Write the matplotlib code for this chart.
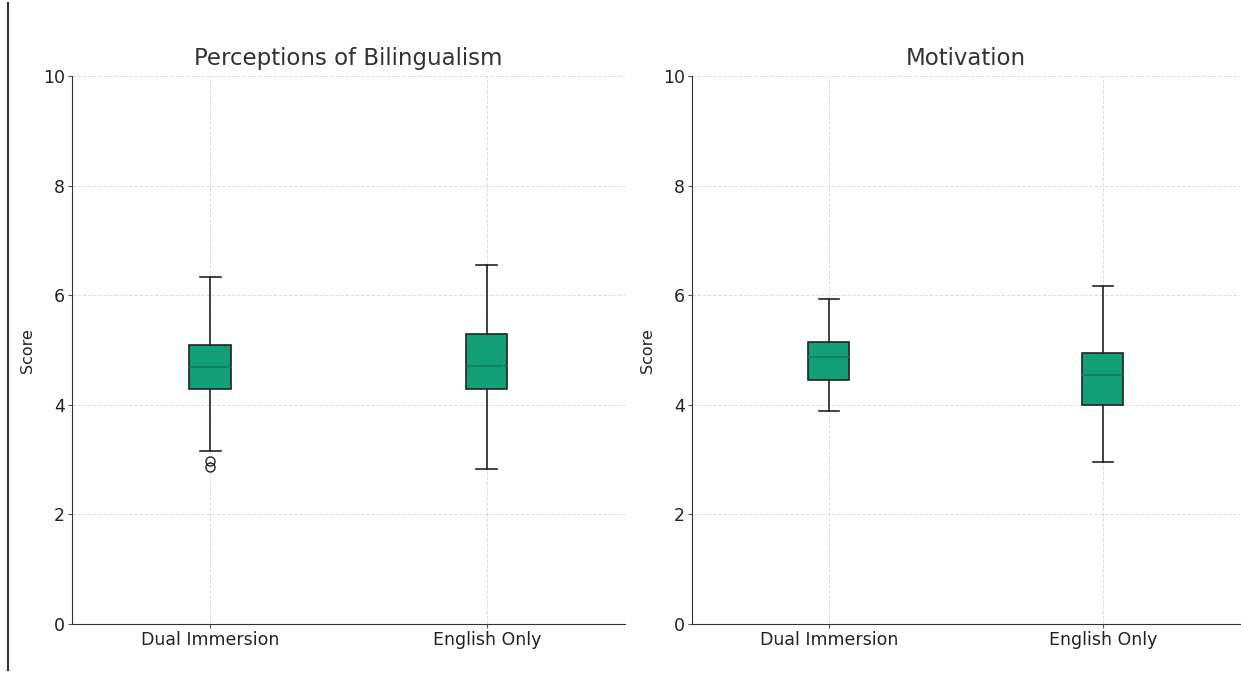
import matplotlib.pyplot as plt
from matplotlib.lines import Line2D

groups = ["Dual Immersion", "English Only"]
titles = ["Perceptions of Bilingualism", "Motivation"]

# five-number summaries per panel: (whislo, q1, med, q3, whishi)
perception = [(3.16, 4.29, 4.69, 5.09, 6.33), (2.83, 4.29, 4.71, 5.29, 6.55)]
motivation = [(3.89, 4.45, 4.87, 5.15, 5.93), (2.96, 4.00, 4.54, 4.95, 6.17)]
perception_fliers = [[2.98, 2.86], []]
motivation_fliers = [[], []]

fill = "#13a077"
median_col = "#0d7d5c"

fig = plt.figure(figsize=(12.41, 6.73), dpi=100)
ax1 = fig.add_axes([0.058, 0.0728, 0.4456, 0.814])
ax2 = fig.add_axes([0.5576, 0.0728, 0.4414, 0.814])

# stray frame edge on the left
fig.add_artist(Line2D([0.0065, 0.0065], [0.005, 0.995], color="#333333", lw=1.5))

panels = [(ax1, perception, perception_fliers), (ax2, motivation, motivation_fliers)]
for i, (ax, summ, fl) in enumerate(panels):
    stats = []
    for (lo, q1, med, q3, hi), f in zip(summ, fl):
        stats.append(dict(whislo=lo, q1=q1, med=med, q3=q3, whishi=hi, fliers=f))
    ax.bxp(stats, positions=[1, 2], widths=0.15, patch_artist=True,
           boxprops=dict(facecolor=fill, edgecolor="#222222", linewidth=1.2),
           medianprops=dict(color=median_col, linewidth=1.2),
           whiskerprops=dict(color="#222222", linewidth=1.2),
           capprops=dict(color="#222222", linewidth=1.2),
           flierprops=dict(marker="o", markerfacecolor="none", markeredgecolor="#222222",
                           markersize=6.5))
    ax.set_xlim(0.5, 2.5)
    ax.set_ylim(0, 10)
    ax.set_xticks([1, 2])
    ax.set_xticklabels(groups, fontsize=12.5, color="#222222")
    ax.set_yticks([0, 2, 4, 6, 8, 10])
    ax.tick_params(axis="y", labelsize=12.5, labelcolor="#222222")
    ax.tick_params(length=3, pad=2, color="#555555")
    ax.set_title(titles[i], fontsize=16.5, color="#333333", pad=8)
    ax.set_ylabel("Score", fontsize=11.5, color="#222222", labelpad=6)
    ax.grid(True, linestyle="--", color="#dedede", linewidth=0.7)
    ax.set_axisbelow(True)
    ax.spines["top"].set_visible(False)
    ax.spines["right"].set_visible(False)
    for s in ["left", "bottom"]:
        ax.spines[s].set_color("#333333")

fig.savefig("out.png", dpi=100)
